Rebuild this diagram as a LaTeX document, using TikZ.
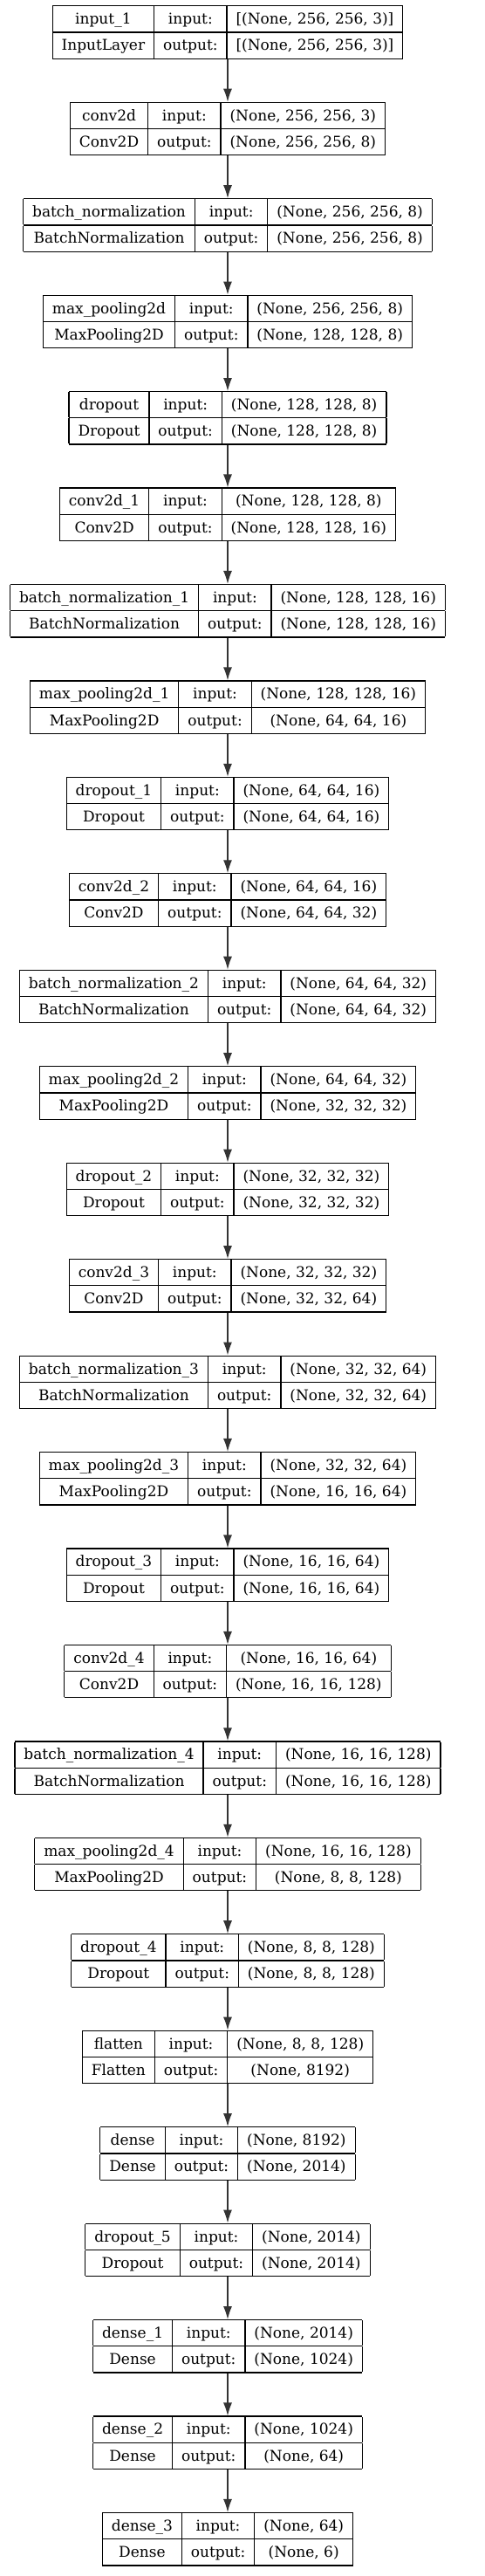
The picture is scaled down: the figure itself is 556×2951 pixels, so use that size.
\documentclass[tikz,border=0pt]{standalone}
\usepackage{fontspec}
\setmainfont{DejaVu Serif}
\usepackage{tikz}
\usetikzlibrary{positioning,arrows.meta}
\usepackage{xcolor}
\setlength{\tabcolsep}{10.5pt}
\setlength{\arrayrulewidth}{1.2pt}
\renewcommand{\arraystretch}{1.45}
\tikzstyle{layer} = [inner sep=0pt, outer sep=0pt, font=\fontsize{17}{20}\selectfont]
\tikzstyle{flow} = [-{Latex[length=15pt,width=10pt]}, line width=1.3pt, draw=black!80, fill=black!90]
\newcommand{\layerbox}[4]{%
    \begin{tabular}{|c|c|c|}
    \hline
    #1 & input: & #3 \\ \hline
    #2 & output: & #4 \\ \hline
    \end{tabular}}

\begin{document}
\begin{tikzpicture}[node distance=48.85pt]
\useasboundingbox (0,0) rectangle (556pt,-2951pt);
\node[layer] (input) at (261pt,-37pt) {\layerbox{input\_1}{InputLayer}{[(None, 256, 256, 3)]}{[(None, 256, 256, 3)]}};
\node[layer, below=of input] (conv) {\layerbox{conv2d}{Conv2D}{(None, 256, 256, 3)}{(None, 256, 256, 8)}};
\node[layer, below=of conv] (bn) {\layerbox{batch\_normalization}{BatchNormalization}{(None, 256, 256, 8)}{(None, 256, 256, 8)}};
\node[layer, below=of bn] (pool) {\layerbox{max\_pooling2d}{MaxPooling2D}{(None, 256, 256, 8)}{(None, 128, 128, 8)}};
\node[layer, below=of pool] (drop) {\layerbox{dropout}{Dropout}{(None, 128, 128, 8)}{(None, 128, 128, 8)}};
\node[layer, below=of drop] (conv1) {\layerbox{conv2d\_1}{Conv2D}{(None, 128, 128, 8)}{(None, 128, 128, 16)}};
\node[layer, below=of conv1] (bn1) {\layerbox{batch\_normalization\_1}{BatchNormalization}{(None, 128, 128, 16)}{(None, 128, 128, 16)}};
\node[layer, below=of bn1] (pool1) {\layerbox{max\_pooling2d\_1}{MaxPooling2D}{(None, 128, 128, 16)}{(None, 64, 64, 16)}};
\node[layer, below=of pool1] (drop1) {\layerbox{dropout\_1}{Dropout}{(None, 64, 64, 16)}{(None, 64, 64, 16)}};
\node[layer, below=of drop1] (conv2) {\layerbox{conv2d\_2}{Conv2D}{(None, 64, 64, 16)}{(None, 64, 64, 32)}};
\node[layer, below=of conv2] (bn2) {\layerbox{batch\_normalization\_2}{BatchNormalization}{(None, 64, 64, 32)}{(None, 64, 64, 32)}};
\node[layer, below=of bn2] (pool2) {\layerbox{max\_pooling2d\_2}{MaxPooling2D}{(None, 64, 64, 32)}{(None, 32, 32, 32)}};
\node[layer, below=of pool2] (drop2) {\layerbox{dropout\_2}{Dropout}{(None, 32, 32, 32)}{(None, 32, 32, 32)}};
\node[layer, below=of drop2] (conv3) {\layerbox{conv2d\_3}{Conv2D}{(None, 32, 32, 32)}{(None, 32, 32, 64)}};
\node[layer, below=of conv3] (bn3) {\layerbox{batch\_normalization\_3}{BatchNormalization}{(None, 32, 32, 64)}{(None, 32, 32, 64)}};
\node[layer, below=of bn3] (pool3) {\layerbox{max\_pooling2d\_3}{MaxPooling2D}{(None, 32, 32, 64)}{(None, 16, 16, 64)}};
\node[layer, below=of pool3] (drop3) {\layerbox{dropout\_3}{Dropout}{(None, 16, 16, 64)}{(None, 16, 16, 64)}};
\node[layer, below=of drop3] (conv4) {\layerbox{conv2d\_4}{Conv2D}{(None, 16, 16, 64)}{(None, 16, 16, 128)}};
\node[layer, below=of conv4] (bn4) {\layerbox{batch\_normalization\_4}{BatchNormalization}{(None, 16, 16, 128)}{(None, 16, 16, 128)}};
\node[layer, below=of bn4] (pool4) {\layerbox{max\_pooling2d\_4}{MaxPooling2D}{(None, 16, 16, 128)}{(None, 8, 8, 128)}};
\node[layer, below=of pool4] (drop4) {\layerbox{dropout\_4}{Dropout}{(None, 8, 8, 128)}{(None, 8, 8, 128)}};
\node[layer, below=of drop4] (flat) {\layerbox{flatten}{Flatten}{(None, 8, 8, 128)}{(None, 8192)}};
\node[layer, below=of flat] (dense) {\layerbox{dense}{Dense}{(None, 8192)}{(None, 2014)}};
\node[layer, below=of dense] (drop5) {\layerbox{dropout\_5}{Dropout}{(None, 2014)}{(None, 2014)}};
\node[layer, below=of drop5] (dense1) {\layerbox{dense\_1}{Dense}{(None, 2014)}{(None, 1024)}};
\node[layer, below=of dense1] (dense2) {\layerbox{dense\_2}{Dense}{(None, 1024)}{(None, 64)}};
\node[layer, below=of dense2] (dense3) {\layerbox{dense\_3}{Dense}{(None, 64)}{(None, 6)}};

% connectors
\draw[flow] (input) -- (conv);
\draw[flow] (conv) -- (bn);
\draw[flow] (bn) -- (pool);
\draw[flow] (pool) -- (drop);
\draw[flow] (drop) -- (conv1);
\draw[flow] (conv1) -- (bn1);
\draw[flow] (bn1) -- (pool1);
\draw[flow] (pool1) -- (drop1);
\draw[flow] (drop1) -- (conv2);
\draw[flow] (conv2) -- (bn2);
\draw[flow] (bn2) -- (pool2);
\draw[flow] (pool2) -- (drop2);
\draw[flow] (drop2) -- (conv3);
\draw[flow] (conv3) -- (bn3);
\draw[flow] (bn3) -- (pool3);
\draw[flow] (pool3) -- (drop3);
\draw[flow] (drop3) -- (conv4);
\draw[flow] (conv4) -- (bn4);
\draw[flow] (bn4) -- (pool4);
\draw[flow] (pool4) -- (drop4);
\draw[flow] (drop4) -- (flat);
\draw[flow] (flat) -- (dense);
\draw[flow] (dense) -- (drop5);
\draw[flow] (drop5) -- (dense1);
\draw[flow] (dense1) -- (dense2);
\draw[flow] (dense2) -- (dense3);
\end{tikzpicture}
\end{document}
